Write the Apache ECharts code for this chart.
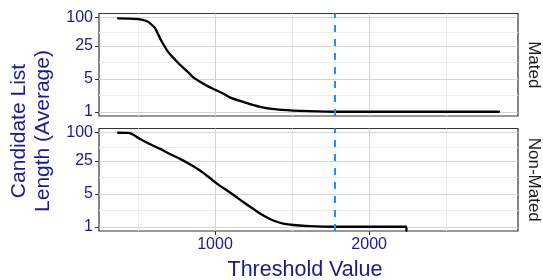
<!DOCTYPE html>
<html>
<head>
<meta charset="utf-8">
<script src="https://cdn.jsdelivr.net/npm/echarts@6/dist/echarts.min.js"></script>
<style>
  html, body { margin: 0; padding: 0; background: #fff; }
  #chart { width: 543px; height: 280px; }
</style>
</head>
<body>
<div id="chart"></div>
<script>
// Average candidate list length vs threshold, one facet per comparison type
const panels = ['Mated', 'Non-Mated'];

const matedX = [371, 430, 514, 560, 579, 600, 611, 630, 654, 697, 740, 773, 820, 859, 900, 946, 1000, 1054, 1100, 1183, 1292, 1400, 1551, 1767, 2000, 2842];
const matedY = [97, 96, 92, 84, 76, 66, 60, 45, 31.5, 18.5, 13, 10, 7.2, 5.4, 4.4, 3.6, 2.95, 2.42, 2.0, 1.62, 1.27, 1.12, 1.04, 1.0, 1.0, 1.0];

const nonMatedX = [371, 438, 514, 580, 644, 710, 773, 840, 903, 968, 1028, 1076, 1130, 1183, 1240, 1292, 1350, 1400, 1450, 1508, 1616, 1767, 2240, 2242];
const nonMatedY = [100, 99, 73.6, 57, 45.3, 35, 27.8, 21, 15.7, 10.8, 7.6, 5.96, 4.5, 3.37, 2.5, 1.92, 1.5, 1.28, 1.15, 1.09, 1.03, 1.0, 1.0, 0.82];

const xTicks = [1000, 2000];
const xMinor = [500, 1500, 2500];
const yTicks = [1, 5, 25, 100];
const yMinor = [2.236, 11.18, 50];
const thresholdValue = 1778;

const navy = '#1a1a8c';
const zip = (xs, ys) => xs.map((x, i) => [x, ys[i]]);
const curves = [zip(matedX, matedY), zip(nonMatedX, nonMatedY)];

// ggplot style 5% expansion (x linear, y in log space)
const allX = matedX.concat(nonMatedX);
const xLo = Math.min(...allX), xHi = Math.max(...allX);
const xPad = (xHi - xLo) * 0.05;
const yMin = Math.pow(10, -0.09), yMax = Math.pow(10, 2.09);

const grids = [
  { left: 99, top: 13.5, width: 419, height: 102.5 },
  { left: 99, top: 128.5, width: 419, height: 102.5 }
].map(g => Object.assign(g, { show: true, borderColor: '#333', borderWidth: 1.2, backgroundColor: '#fff' }));

const majorStyle = { color: '#d4d4d4', width: 1, type: 'solid' };
const minorStyle = { color: '#ececec', width: 1, type: 'solid' };

const xAxes = panels.map((p, i) => ({
  type: 'value', gridIndex: i, min: xLo - xPad, max: xHi + xPad,
  axisLine: { show: false }, splitLine: { show: false },
  axisTick: { show: i === 1, length: 4, lineStyle: { color: '#333' }, customValues: xTicks },
  axisLabel: { show: i === 1, customValues: xTicks, formatter: v => String(v), color: navy, fontSize: 16, fontFamily: 'Liberation Sans', margin: 6 }
}));

const yAxes = panels.map((p, i) => ({
  type: 'log', logBase: 10, gridIndex: i, min: yMin, max: yMax,
  axisLine: { show: false }, splitLine: { show: false }, minorSplitLine: { show: false },
  axisTick: { show: true, length: 4, lineStyle: { color: '#333' }, customValues: yTicks },
  axisLabel: { customValues: yTicks, formatter: v => String(Math.round(v)), color: navy, fontSize: 16, fontFamily: 'Liberation Sans', margin: 6 }
}));

const series = [];
panels.forEach((p, i) => {
  // background grid lines (markLine z defaults to 5, keep them under the curve)
  series.push({
    type: 'line', xAxisIndex: i, yAxisIndex: i, data: [], silent: true, z: 1,
    markLine: {
      z: 1, silent: true, symbol: 'none', label: { show: false }, animation: false,
      data: [].concat(
        xMinor.map(v => ({ xAxis: v, lineStyle: minorStyle })),
        yMinor.map(v => ({ yAxis: v, lineStyle: minorStyle })),
        xTicks.map(v => ({ xAxis: v, lineStyle: majorStyle })),
        yTicks.map(v => ({ yAxis: v, lineStyle: majorStyle }))
      )
    }
  });
  series.push({
    name: p, type: 'line', xAxisIndex: i, yAxisIndex: i, data: curves[i],
    symbol: 'none', showSymbol: false, smooth: 0.3, z: 3, silent: true,
    emphasis: { disabled: true },
    lineStyle: { color: '#000', width: 2.3, join: 'round', cap: 'round' }
  });
  series.push({
    type: 'line', xAxisIndex: i, yAxisIndex: i, data: [], silent: true, z: 4,
    markLine: {
      z: 6, silent: true, symbol: 'none', label: { show: false }, animation: false,
      data: [{ xAxis: thresholdValue }],
      lineStyle: { color: '#1e90ff', width: 2, type: [7, 7] }
    }
  });
});

const chart = echarts.init(document.getElementById('chart'));
chart.setOption({
  animation: false,
  grid: grids,
  xAxis: xAxes,
  yAxis: yAxes,
  series,
  graphic: [
    {
      type: 'text', x: 31, y: 131, rotation: Math.PI / 2,
      style: { text: 'Candidate List\nLength (Average)', fill: navy, font: '21px "Liberation Sans"', lineHeight: 24, align: 'center', verticalAlign: 'middle' }
    },
    {
      type: 'text', x: 305, y: 270,
      style: { text: 'Threshold Value', fill: navy, font: '21.5px "Liberation Sans"', align: 'center', verticalAlign: 'middle' }
    },
    {
      type: 'text', x: 534, y: 64.75, rotation: -Math.PI / 2,
      style: { text: panels[0], fill: '#1a1a1a', font: '17px "Liberation Sans"', align: 'center', verticalAlign: 'middle' }
    },
    {
      type: 'text', x: 534, y: 179.75, rotation: -Math.PI / 2,
      style: { text: panels[1], fill: '#1a1a1a', font: '17px "Liberation Sans"', align: 'center', verticalAlign: 'middle' }
    }
  ]
});
</script>
</body>
</html>
